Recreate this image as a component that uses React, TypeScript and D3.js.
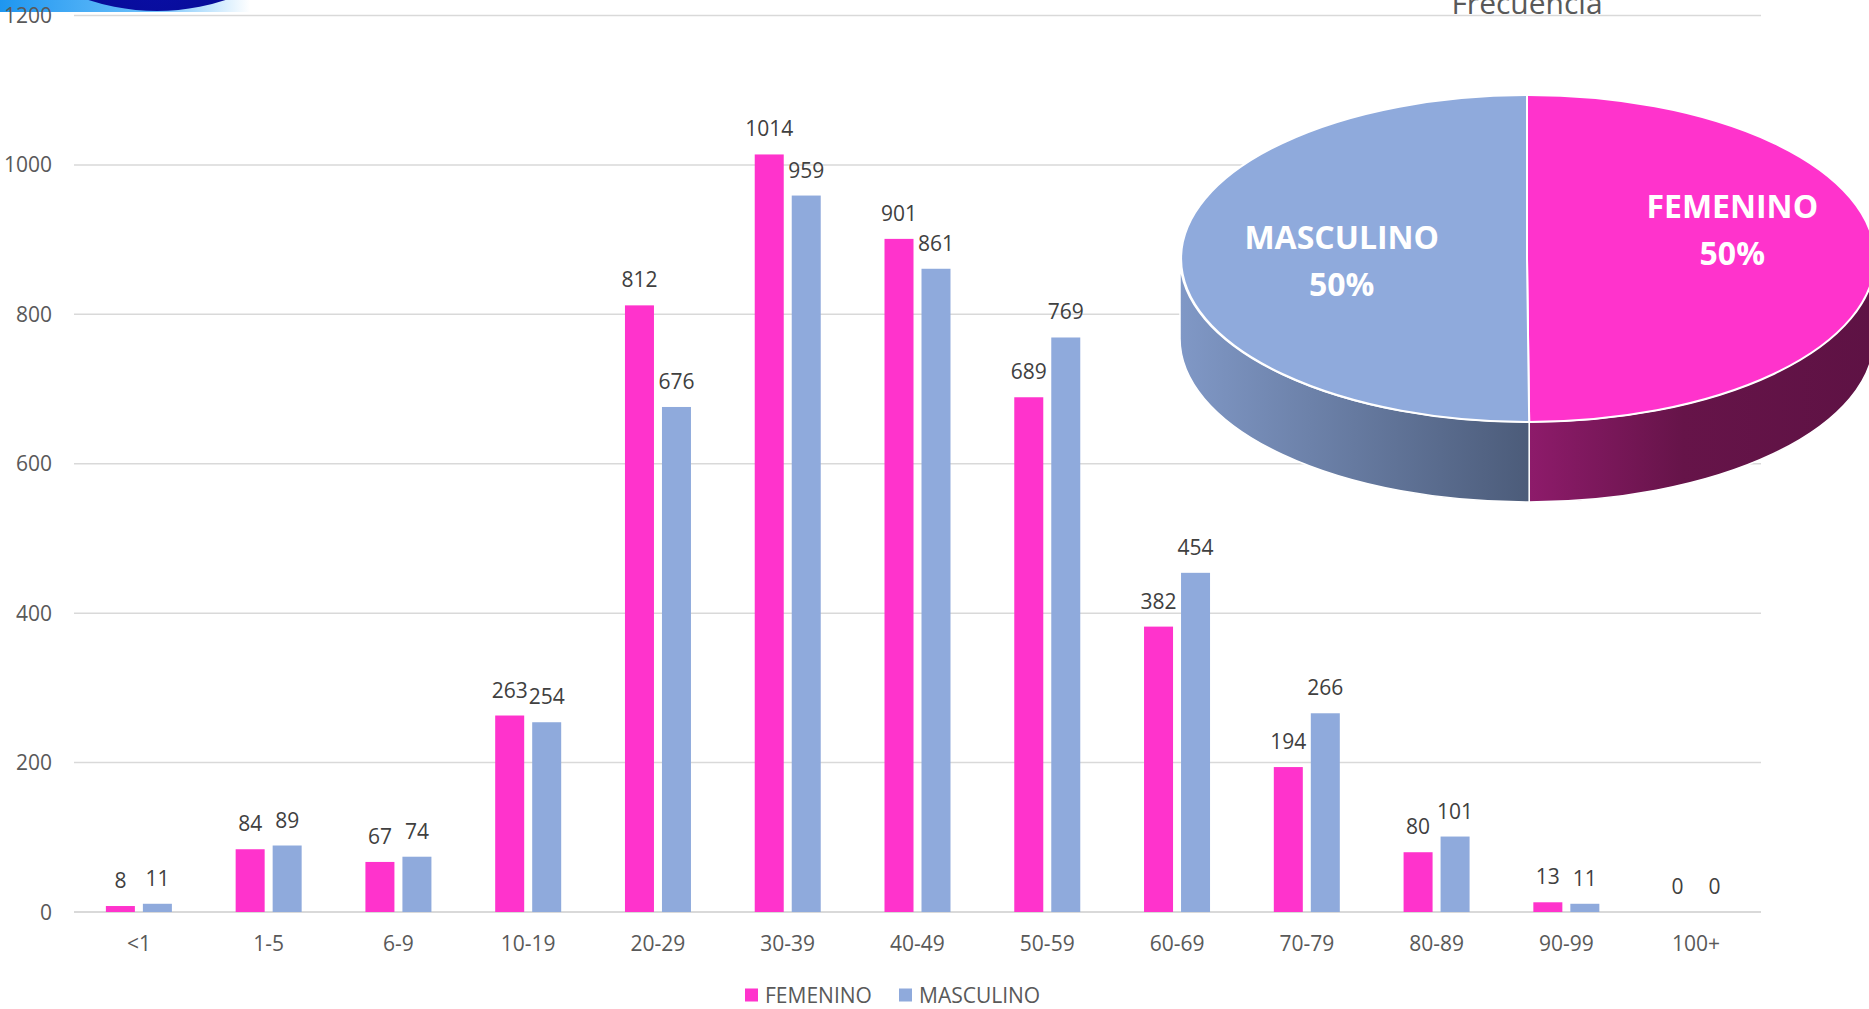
import React, { useEffect } from "react";
import * as d3 from "d3";

const categories = ["<1", "1-5", "6-9", "10-19", "20-29", "30-39", "40-49", "50-59", "60-69", "70-79", "80-89", "90-99", "100+"];
const femenino = [8, 84, 67, 263, 812, 1014, 901, 689, 382, 194, 80, 13, 0];
const masculino = [11, 89, 74, 254, 676, 959, 861, 769, 454, 266, 101, 11, 0];
const yTicks = [0, 200, 400, 600, 800, 1000, 1200];
const seriesNames = ["FEMENINO", "MASCULINO"];
const seriesColors = ["#FF33CC", "#8FAADC"];
const pieTitle = "Frecuencia";

const W = 1869;
const H = 1009;
const FONT = "'Open Sans', 'Noto Sans', sans-serif";

export default function App() {
  useEffect(() => {
    document.body.style.margin = "0";
    document.body.style.overflow = "hidden";
  }, []);

  const x = d3.scaleBand<string>().domain(categories).range([74, 1761]).paddingInner(0).paddingOuter(0);
  const groupW = 66;
  const xs = d3.scaleBand<string>().domain(seriesNames).range([0, groupW]).paddingInner(8 / 37);
  const y = d3.scaleLinear().domain([0, 1200]).range([912, 15.5]);
  const series = [femenino, masculino];

  // pie
  const totals = [d3.sum(femenino), d3.sum(masculino)];
  const pieGen = d3.pie<number>().sort(null).value((d) => d);
  const arcs = pieGen(totals);
  const cx = 1527, cy = 258.5, rx = 347, ry = 163.5, depth = 80;
  const P = (a: number, dy = 0) => [cx + rx * Math.sin(a), cy - ry * Math.cos(a) + dy];
  const pt = (p: number[]) => `${p[0].toFixed(2)},${p[1].toFixed(2)}`;
  const topPath = (a0: number, a1: number) => {
    const large = a1 - a0 > Math.PI ? 1 : 0;
    return `M${cx},${cy} L${pt(P(a0))} A${rx},${ry} 0 ${large} 1 ${pt(P(a1))} Z`;
  };
  const sidePath = (a0: number, a1: number) => {
    const s = Math.max(a0, Math.PI / 2);
    const e = Math.min(a1, (3 * Math.PI) / 2);
    if (e <= s) return null;
    return `M${pt(P(s))} A${rx},${ry} 0 0 1 ${pt(P(e))} L${pt(P(e, depth))} A${rx},${ry} 0 0 0 ${pt(P(s, depth))} Z`;
  };
  const sideFills = ["url(#pinkSide)", "url(#blueSide)"];
  const total = d3.sum(totals);
  const labelDy = [-30, 1];
  const labelDx = [4, 16];
  const fmtPct = d3.format(".0%");

  return (
    <div style={{ position: "absolute", left: 0, top: 0 }}>
      <svg width={W} height={H} style={{ display: "block", background: "#fff" }} fontFamily={FONT}>
        <defs>
          <linearGradient id="band" x1="0" x2="1" y1="0" y2="0">
            <stop offset="0" stopColor="#1E96F0" />
            <stop offset="0.6" stopColor="#6CC0FA" />
            <stop offset="1" stopColor="#FFFFFF" />
          </linearGradient>
          <radialGradient id="navy" cx="0.5" cy="0.9" r="0.6">
            <stop offset="0" stopColor="#0A0FA8" />
            <stop offset="1" stopColor="#00036E" />
          </radialGradient>
          <linearGradient id="blueSide" gradientUnits="userSpaceOnUse" x1={cx - rx} x2={cx} y1="0" y2="0">
            <stop offset="0" stopColor="#8098C6" />
            <stop offset="1" stopColor="#4C5C7A" />
          </linearGradient>
          <linearGradient id="pinkSide" gradientUnits="userSpaceOnUse" x1={cx} x2={cx + rx} y1="0" y2="0">
            <stop offset="0" stopColor="#8E1B6B" />
            <stop offset="0.45" stopColor="#661449" />
            <stop offset="1" stopColor="#5E1244" />
          </linearGradient>
        </defs>

        {/* logo fragment */}
        <rect x={0} y={0} width={250} height={12} fill="url(#band)" />
        <circle cx={157} cy={-208} r={219} fill="url(#navy)" />

        {/* gridlines */}
        {yTicks.map((t) => (
          <line key={t} x1={74} x2={1761} y1={y(t)} y2={y(t)} stroke="#D9D9D9" strokeWidth={t === 0 ? 2 : 1.5} />
        ))}
        {yTicks.map((t) => (
          <text key={"l" + t} x={52} y={y(t)} dy="0.36em" textAnchor="end" fontSize={21} fill="#595959">
            {t}
          </text>
        ))}

        {/* bars */}
        {categories.map((c, i) => {
          const gx = (x(c) as number) + x.bandwidth() / 2 - groupW / 2;
          return (
            <g key={c}>
              {series.map((s, k) => {
                const bx = gx + (xs(seriesNames[k]) as number);
                const v = s[i];
                return (
                  <g key={k}>
                    <rect x={bx} y={y(v)} width={xs.bandwidth()} height={y(0) - y(v)} fill={seriesColors[k]} />
                    <text x={bx + xs.bandwidth() / 2} y={y(v) - 18} textAnchor="middle" fontSize={21} fill="#404040">
                      {v}
                    </text>
                  </g>
                );
              })}
              <text x={(x(c) as number) + x.bandwidth() / 2} y={950.5} textAnchor="middle" fontSize={21} fill="#595959">
                {c}
              </text>
            </g>
          );
        })}

        {/* legend */}
        {seriesNames.map((n, k) => {
          const lx = k === 0 ? 745 : 899;
          return (
            <g key={n}>
              <rect x={lx} y={988.5} width={13} height={13} fill={seriesColors[k]} />
              <text x={lx + 20} y={1002.5} fontSize={21} fill="#595959">
                {n}
              </text>
            </g>
          );
        })}

        {/* pie title */}
        <text x={1527} y={14} textAnchor="middle" fontSize={30} fill="#595959">
          {pieTitle}
        </text>

        {/* pie sides */}
        {arcs.map((a, k) => {
          const d = sidePath(a.startAngle, a.endAngle);
          return d ? <path key={"s" + k} d={d} fill={sideFills[k]} stroke="#fff" strokeWidth={1.5} /> : null;
        })}
        {/* pie top */}
        {arcs.map((a, k) => (
          <path key={"t" + k} d={topPath(a.startAngle, a.endAngle)} fill={seriesColors[k]} stroke="#fff" strokeWidth={2} />
        ))}
        {arcs.map((a, k) => {
          const mid = (a.startAngle + a.endAngle) / 2;
          const lx = cx + 0.58 * rx * Math.sin(mid) + labelDx[k];
          const ly = cy + labelDy[k];
          return (
            <text key={"pl" + k} x={lx} textAnchor="middle" fontSize={32} fontWeight="bold" fill="#fff">
              <tspan x={lx} y={ly - 11}>{seriesNames[k]}</tspan>
              <tspan x={lx} y={ly + 36}>{fmtPct(a.value / total)}</tspan>
            </text>
          );
        })}
      </svg>
    </div>
  );
}
